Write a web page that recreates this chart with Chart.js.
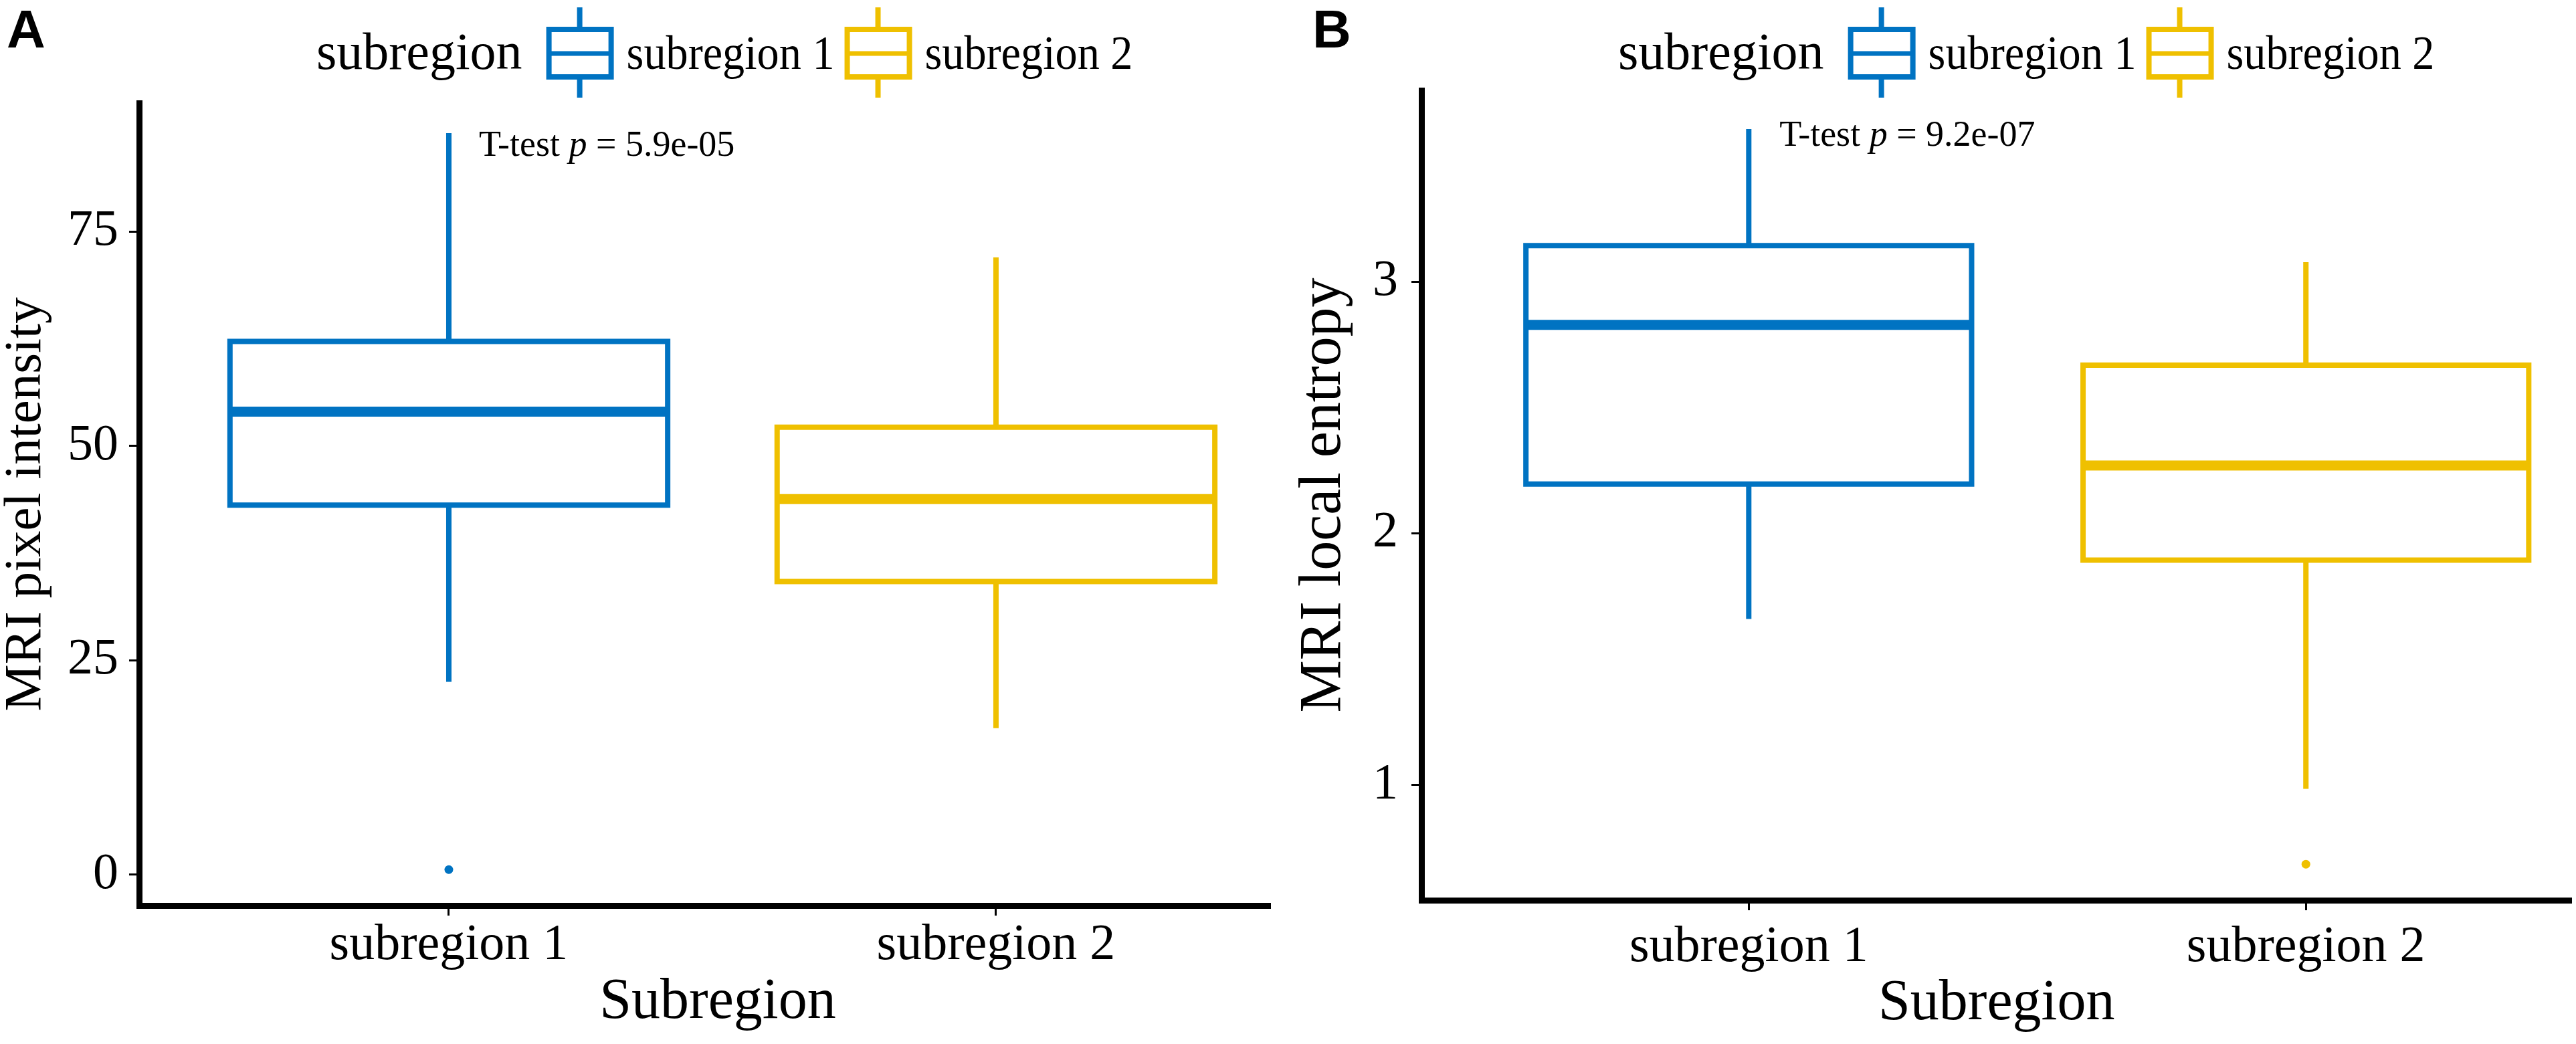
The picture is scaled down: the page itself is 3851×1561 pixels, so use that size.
<!DOCTYPE html>
<html>
<head>
<meta charset="utf-8">
<title>MRI subregion boxplots</title>
<script src="https://cdn.jsdelivr.net/npm/chart.js@4.4.1/dist/chart.umd.min.js"></script>
<style>
  html, body { margin: 0; padding: 0; background: #fff; }
  .panel { position: absolute; top: 0; background: #fff; }
</style>
</head>
<body>
<canvas id="chart-a" class="panel" width="1950" height="1561" style="left:0"></canvas>
<canvas id="chart-b" class="panel" width="1951" height="1561" style="left:1900px"></canvas>
<script>
const categories = ['subregion 1', 'subregion 2'];
const legendTitle = 'subregion';
const xTitle = 'Subregion';

// A - MRI pixel intensity
const intensityLow = [22.5, 17.1];
const intensityQ1 = [43.1, 34.2];
const intensityMedian = [54.0, 43.8];
const intensityQ3 = [62.2, 52.2];
const intensityHigh = [86.5, 72.0];
const intensityOutliers = [[0.6], []];
const intensityTicks = [0, 25, 50, 75];
const intensityP = '5.9e-05';

// B - MRI local entropy
const entropyLow = [1.66, 0.985];
const entropyQ1 = [2.196, 1.894];
const entropyMedian = [2.828, 2.27];
const entropyQ3 = [3.143, 2.668];
const entropyHigh = [3.606, 3.077];
const entropyOutliers = [[], [0.686]];
const entropyTicks = [1, 2, 3];
const entropyP = '9.2e-07';

const colors = ['#0073C2', '#EFC000'];
const serif = '"Liberation Serif", "Times New Roman", serif';
const BOX_HALF = 0.4;

function boxDatasets(low, q1, med, q3, high, outliers) {
    const sets = [];
    categories.forEach((name, i) => {
        const c = i + 1;
        const col = colors[i];
        const line = {
            showLine: true, pointRadius: 0, borderColor: col, backgroundColor: col,
            fill: false, borderWidth: 8, borderJoinStyle: 'miter'
        };
        sets.push({ ...line, label: name + ' upper whisker', data: [{ x: c, y: q3[i] }, { x: c, y: high[i] }] });
        sets.push({ ...line, label: name + ' lower whisker', data: [{ x: c, y: low[i] }, { x: c, y: q1[i] }] });
        sets.push({ ...line, label: name + ' box', data: [
            { x: c, y: q1[i] }, { x: c + BOX_HALF, y: q1[i] }, { x: c + BOX_HALF, y: q3[i] },
            { x: c - BOX_HALF, y: q3[i] }, { x: c - BOX_HALF, y: q1[i] }, { x: c, y: q1[i] }
        ] });
        sets.push({ ...line, label: name + ' median', borderWidth: 15,
            data: [{ x: c - BOX_HALF, y: med[i] }, { x: c + BOX_HALF, y: med[i] }] });
        sets.push({ label: name + ' outliers', showLine: false, pointRadius: 6.5,
            pointBackgroundColor: col, pointBorderWidth: 0,
            data: outliers[i].map(v => ({ x: c, y: v })) });
    });
    return sets;
}

function drawKey(ctx, x, cy, color) {
    ctx.strokeStyle = color;
    ctx.lineCap = 'butt';
    ctx.lineWidth = 8;
    ctx.beginPath();
    ctx.moveTo(x + 50, cy - 69); ctx.lineTo(x + 50, cy - 36);
    ctx.moveTo(x + 50, cy + 35); ctx.lineTo(x + 50, cy + 66);
    ctx.stroke();
    ctx.strokeRect(x + 4, cy - 36, 93, 71);
    ctx.lineWidth = 7;
    ctx.beginPath();
    ctx.moveTo(x + 4, cy); ctx.lineTo(x + 97, cy);
    ctx.stroke();
}

// panel letter, ggplot style legend and the t-test label
const panelDecor = {
    id: 'panelDecor',
    afterDraw(chart, args, opts) {
        const ctx = chart.ctx;
        ctx.save();
        ctx.fillStyle = '#000';
        ctx.textAlign = 'left';
        ctx.textBaseline = 'alphabetic';
        ctx.font = 'bold 80px "Liberation Sans", Arial, sans-serif';
        ctx.fillText(opts.letter, opts.letterX, 71);

        let lx = opts.legendX;
        ctx.font = '78px ' + serif;
        ctx.fillText(legendTitle, lx, 103);
        lx += ctx.measureText(legendTitle).width + 36;
        categories.forEach((name, i) => {
            drawKey(ctx, lx, 80, colors[i]);
            lx += 101 + 19;
            ctx.fillStyle = '#000';
            ctx.font = '72px ' + serif;
            ctx.save();
            ctx.translate(lx, 103);
            ctx.scale(0.92, 1);
            ctx.fillText(name, 0, 0);
            ctx.restore();
            lx += ctx.measureText(name).width * 0.92 + 15;
        });

        const px = chart.scales.x.getPixelForValue(opts.pX);
        const py = chart.scales.y.getPixelForValue(opts.pY);
        let tx = px;
        const parts = [['T-test ', ''], ['p', 'italic '], [' = ' + opts.pValue, '']];
        parts.forEach(([t, style]) => {
            ctx.font = style + '54px ' + serif;
            ctx.fillText(t, tx, py);
            tx += ctx.measureText(t).width;
        });
        ctx.restore();
    }
};

function makeChart(id, cfg) {
    return new Chart(document.getElementById(id), {
        type: 'scatter',
        data: { datasets: cfg.datasets },
        options: {
            responsive: false,
            animation: false,
            events: [],
            layout: { padding: cfg.padding },
            plugins: {
                legend: { display: false },
                tooltip: { enabled: false },
                panelDecor: cfg.decor
            },
            scales: {
                x: {
                    type: 'linear',
                    min: cfg.xMin,
                    max: cfg.xMax,
                    afterBuildTicks: s => { s.ticks = categories.map((c, i) => ({ value: i + 1 })); },
                    afterFit: s => { s.height = cfg.xHeight; },
                    ticks: {
                        callback: v => categories[v - 1],
                        font: { family: serif, size: 76, lineHeight: 1 },
                        color: '#000', padding: cfg.xTickPad, maxRotation: 0, autoSkip: false
                    },
                    grid: { drawOnChartArea: false, tickLength: 15, tickWidth: 3, tickColor: '#000', color: '#000' },
                    border: { display: true, width: 9, color: '#000' },
                    title: {
                        display: true, text: xTitle, color: '#000',
                        font: { family: serif, size: 86, lineHeight: 1 },
                        padding: { top: 0, bottom: cfg.xTitlePad }
                    }
                },
                y: {
                    type: 'linear',
                    min: cfg.yMin,
                    max: cfg.yMax,
                    afterBuildTicks: s => { s.ticks = cfg.ticks.map(v => ({ value: v })); },
                    afterFit: s => { s.width = cfg.yWidth; },
                    ticks: {
                        font: { family: serif, size: 76 },
                        color: '#000', padding: cfg.yTickPad
                    },
                    grid: { drawOnChartArea: false, tickLength: 15, tickWidth: 3, tickColor: '#000', color: '#000' },
                    border: { display: true, width: 9, color: '#000' },
                    title: {
                        display: true, text: cfg.yTitle, color: '#000',
                        font: { family: serif, size: cfg.yTitleSize, lineHeight: 0.9 },
                        padding: { top: cfg.yTitlePad, bottom: 0 }
                    }
                }
            }
        },
        plugins: [panelDecor]
    });
}

makeChart('chart-a', {
    datasets: boxDatasets(intensityLow, intensityQ1, intensityMedian, intensityQ3, intensityHigh, intensityOutliers),
    ticks: intensityTicks,
    yTitle: 'MRI pixel intensity',
    yTitleSize: 79,
    xMin: 0.434, xMax: 2.549,
    yMin: -3.59, yMax: 90,
    padding: { top: 154, right: 12, bottom: 0, left: 0 },
    xHeight: 207, yWidth: 208,
    xTickPad: 7, xTitlePad: 19, yTickPad: 16, yTitlePad: 4,
    decor: { letter: 'A', letterX: 10, legendX: 473, pX: 1.055, pY: 83.8, pValue: intensityP }
});

makeChart('chart-b', {
    datasets: boxDatasets(entropyLow, entropyQ1, entropyMedian, entropyQ3, entropyHigh, entropyOutliers),
    ticks: entropyTicks,
    yTitle: 'MRI local entropy',
    yTitleSize: 88,
    xMin: 0.4125, xMax: 2.477,
    yMin: 0.543, yMax: 3.76,
    padding: { top: 135, right: 4, bottom: 0, left: 0 },
    xHeight: 215, yWidth: 225,
    xTickPad: 18, xTitlePad: 17, yTickPad: 20, yTitlePad: 40,
    decor: { letter: 'B', letterX: 62, legendX: 519, pX: 1.055, pY: 3.54, pValue: entropyP }
});
</script>
</body>
</html>
